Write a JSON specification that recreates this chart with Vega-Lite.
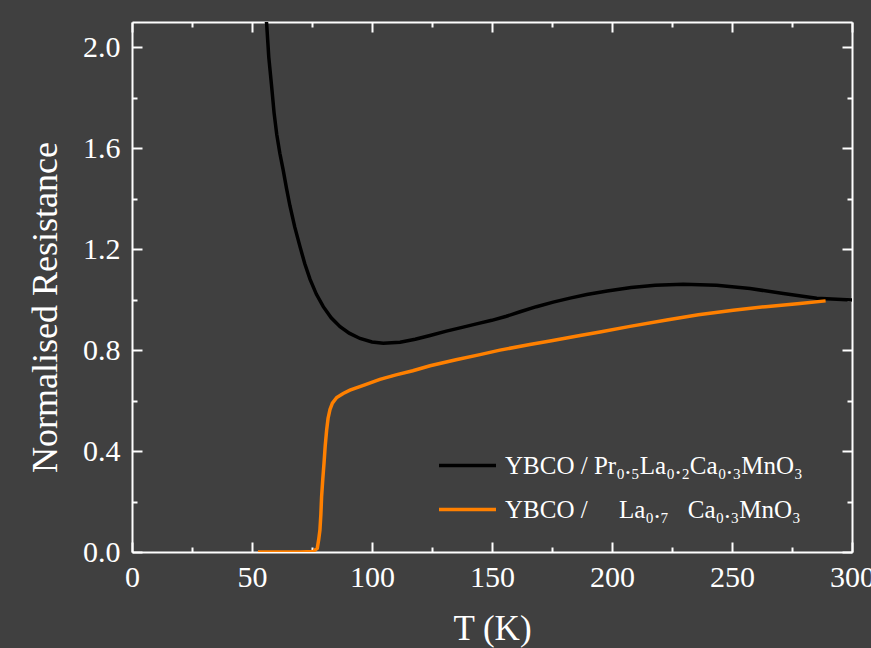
{
  "$schema": "https://vega.github.io/schema/vega-lite/v6.json",
  "width": 720,
  "height": 530,
  "autosize": {"type": "none"},
  "padding": {"left": 132, "top": 22, "right": 19, "bottom": 96},
  "background": "#404040",
  "config": {"view": {"stroke": null}, "font": "Liberation Serif"},
  "data": {
    "values": [
      {"sample": "PLCMO", "T": 55.3, "R": 2.15},
      {"sample": "PLCMO", "T": 56.1, "R": 2.094},
      {"sample": "PLCMO", "T": 57.0, "R": 1.96},
      {"sample": "PLCMO", "T": 58.2, "R": 1.843},
      {"sample": "PLCMO", "T": 59.2, "R": 1.74},
      {"sample": "PLCMO", "T": 60.3, "R": 1.655},
      {"sample": "PLCMO", "T": 61.6, "R": 1.58},
      {"sample": "PLCMO", "T": 63.0, "R": 1.513},
      {"sample": "PLCMO", "T": 64.4, "R": 1.44},
      {"sample": "PLCMO", "T": 65.8, "R": 1.372},
      {"sample": "PLCMO", "T": 67.8, "R": 1.288},
      {"sample": "PLCMO", "T": 70.0, "R": 1.21},
      {"sample": "PLCMO", "T": 72.0, "R": 1.142},
      {"sample": "PLCMO", "T": 74.2, "R": 1.08},
      {"sample": "PLCMO", "T": 76.8, "R": 1.022},
      {"sample": "PLCMO", "T": 79.7, "R": 0.972},
      {"sample": "PLCMO", "T": 83.0, "R": 0.928},
      {"sample": "PLCMO", "T": 86.7, "R": 0.893},
      {"sample": "PLCMO", "T": 90.5, "R": 0.867},
      {"sample": "PLCMO", "T": 95.0, "R": 0.846},
      {"sample": "PLCMO", "T": 100.0, "R": 0.832},
      {"sample": "PLCMO", "T": 104.7, "R": 0.827},
      {"sample": "PLCMO", "T": 111.7, "R": 0.831},
      {"sample": "PLCMO", "T": 118.0, "R": 0.843},
      {"sample": "PLCMO", "T": 124.2, "R": 0.858},
      {"sample": "PLCMO", "T": 131.0, "R": 0.875},
      {"sample": "PLCMO", "T": 138.0, "R": 0.891},
      {"sample": "PLCMO", "T": 144.0, "R": 0.905},
      {"sample": "PLCMO", "T": 149.9, "R": 0.918},
      {"sample": "PLCMO", "T": 156.0, "R": 0.934},
      {"sample": "PLCMO", "T": 161.7, "R": 0.952},
      {"sample": "PLCMO", "T": 168.5, "R": 0.972},
      {"sample": "PLCMO", "T": 175.5, "R": 0.99},
      {"sample": "PLCMO", "T": 182.5, "R": 1.006},
      {"sample": "PLCMO", "T": 189.5, "R": 1.02},
      {"sample": "PLCMO", "T": 198.0, "R": 1.034},
      {"sample": "PLCMO", "T": 208.0, "R": 1.048},
      {"sample": "PLCMO", "T": 218.0, "R": 1.057},
      {"sample": "PLCMO", "T": 229.7, "R": 1.061},
      {"sample": "PLCMO", "T": 243.6, "R": 1.057},
      {"sample": "PLCMO", "T": 257.5, "R": 1.044},
      {"sample": "PLCMO", "T": 271.4, "R": 1.024},
      {"sample": "PLCMO", "T": 285.3, "R": 1.005},
      {"sample": "PLCMO", "T": 300.0, "R": 0.998},
      {"sample": "LCMO", "T": 52.5, "R": 0.0},
      {"sample": "LCMO", "T": 60.0, "R": 0.0},
      {"sample": "LCMO", "T": 70.0, "R": 0.0},
      {"sample": "LCMO", "T": 75.5, "R": 0.002},
      {"sample": "LCMO", "T": 77.2, "R": 0.015},
      {"sample": "LCMO", "T": 77.8, "R": 0.05},
      {"sample": "LCMO", "T": 78.3, "R": 0.087},
      {"sample": "LCMO", "T": 78.7, "R": 0.15},
      {"sample": "LCMO", "T": 79.0, "R": 0.219},
      {"sample": "LCMO", "T": 79.5, "R": 0.29},
      {"sample": "LCMO", "T": 80.0, "R": 0.351},
      {"sample": "LCMO", "T": 80.5, "R": 0.42},
      {"sample": "LCMO", "T": 81.1, "R": 0.483},
      {"sample": "LCMO", "T": 81.7, "R": 0.53},
      {"sample": "LCMO", "T": 82.5, "R": 0.565},
      {"sample": "LCMO", "T": 83.5, "R": 0.59},
      {"sample": "LCMO", "T": 85.3, "R": 0.612},
      {"sample": "LCMO", "T": 88.0, "R": 0.628},
      {"sample": "LCMO", "T": 90.8, "R": 0.641},
      {"sample": "LCMO", "T": 97.0, "R": 0.662},
      {"sample": "LCMO", "T": 103.3, "R": 0.684},
      {"sample": "LCMO", "T": 110.0, "R": 0.702},
      {"sample": "LCMO", "T": 117.0, "R": 0.718},
      {"sample": "LCMO", "T": 124.2, "R": 0.738},
      {"sample": "LCMO", "T": 135.0, "R": 0.762},
      {"sample": "LCMO", "T": 145.0, "R": 0.782},
      {"sample": "LCMO", "T": 153.3, "R": 0.8},
      {"sample": "LCMO", "T": 165.8, "R": 0.822},
      {"sample": "LCMO", "T": 174.2, "R": 0.836},
      {"sample": "LCMO", "T": 186.7, "R": 0.858},
      {"sample": "LCMO", "T": 195.0, "R": 0.872},
      {"sample": "LCMO", "T": 207.5, "R": 0.894},
      {"sample": "LCMO", "T": 222.8, "R": 0.919},
      {"sample": "LCMO", "T": 236.0, "R": 0.94},
      {"sample": "LCMO", "T": 250.5, "R": 0.958},
      {"sample": "LCMO", "T": 264.0, "R": 0.972},
      {"sample": "LCMO", "T": 278.3, "R": 0.985},
      {"sample": "LCMO", "T": 289.0, "R": 0.995}
    ]
  },
  "layer": [
    {
      "mark": {"type": "line", "opacity": 0, "clip": true},
      "encoding": {
        "x": {
          "field": "T", "type": "quantitative",
          "scale": {"domain": [0, 300], "nice": false, "zero": false},
          "axis": {
            "orient": "bottom",
            "values": [0, 25, 50, 75, 100, 125, 150, 175, 200, 225, 250, 275, 300],
            "labelExpr": "datum.value % 50 === 0 ? datum.label : ''",
            "tickSize": {"condition": {"test": "datum.value % 50 === 0", "value": -10}, "value": -5},
            "tickColor": "#ffffff", "tickWidth": 2,
            "domainColor": "#ffffff", "domainWidth": 2,
            "labelColor": "#ffffff", "labelFontSize": 30, "labelFont": "Liberation Serif",
            "labelPadding": 20, "labelFlush": false, "labelOverlap": false, "labelBound": false,
            "grid": false,
            "title": "T (K)", "titleFont": "Liberation Serif", "titleFontSize": 35,
            "titleFontWeight": "normal", "titleColor": "#ffffff", "titlePadding": 14
          }
        },
        "y": {
          "field": "R", "type": "quantitative",
          "scale": {"domain": [0, 2.1], "nice": false, "zero": false},
          "axis": {
            "orient": "left",
            "values": [0, 0.2, 0.4, 0.6, 0.8, 1, 1.2, 1.4, 1.6, 1.8, 2],
            "labelExpr": "round(datum.value * 5) % 2 === 0 ? format(datum.value, '.1f') : ''",
            "tickSize": {"condition": {"test": "round(datum.value * 5) % 2 === 0", "value": -10}, "value": -5},
            "tickColor": "#ffffff", "tickWidth": 2,
            "domainColor": "#ffffff", "domainWidth": 2,
            "labelColor": "#ffffff", "labelFontSize": 30, "labelFont": "Liberation Serif",
            "labelPadding": 22, "labelFlush": false, "labelOverlap": false, "labelBound": false,
            "grid": false,
            "title": "Normalised Resistance", "titleFont": "Liberation Serif", "titleFontSize": 36,
            "titleFontWeight": "normal", "titleColor": "#ffffff", "titlePadding": 18,
            "titleY": 285
          }
        }
      }
    },
    {
      "mark": {"type": "line", "strokeWidth": 3.5, "clip": true},
      "encoding": {
        "x": {
          "field": "T", "type": "quantitative",
          "scale": {"domain": [0, 300], "nice": false, "zero": false},
          "axis": {
            "orient": "top",
            "values": [0, 25, 50, 75, 100, 125, 150, 175, 200, 225, 250, 275, 300],
            "labels": false,
            "tickSize": {"condition": {"test": "datum.value % 50 === 0", "value": -10}, "value": -5},
            "tickColor": "#ffffff", "tickWidth": 2,
            "domainColor": "#ffffff", "domainWidth": 2,
            "grid": false, "title": null
          }
        },
        "y": {
          "field": "R", "type": "quantitative",
          "scale": {"domain": [0, 2.1], "nice": false, "zero": false},
          "axis": {
            "orient": "right",
            "values": [0, 0.2, 0.4, 0.6, 0.8, 1, 1.2, 1.4, 1.6, 1.8, 2],
            "labels": false,
            "tickSize": {"condition": {"test": "round(datum.value * 5) % 2 === 0", "value": -10}, "value": -5},
            "tickColor": "#ffffff", "tickWidth": 2,
            "domainColor": "#ffffff", "domainWidth": 2,
            "grid": false, "title": null
          }
        },
        "color": {
          "field": "sample", "type": "nominal",
          "scale": {"domain": ["PLCMO", "LCMO"], "range": ["#000000", "#ff8000"]},
          "legend": {
            "orient": "none", "legendX": 305, "legendY": 413,
            "title": null, "padding": 0,
            "symbolType": "stroke", "symbolSize": 3249, "symbolStrokeWidth": 3.5,
            "labelFontSize": 25, "labelFont": "Liberation Serif", "labelColor": "#ffffff",
            "labelOffset": 7, "labelLimit": 0, "rowPadding": -20,
            "labelExpr": "datum.value === 'PLCMO' ? 'YBCO / Pr₀.₅La₀.₂Ca₀.₃MnO₃' : 'YBCO /\u00a0\u00a0\u00a0\u00a0\u00a0La₀.₇\u00a0\u00a0\u00a0Ca₀.₃MnO₃'"
          }
        }
      }
    }
  ],
  "resolve": {"axis": {"x": "independent", "y": "independent"}}
}
